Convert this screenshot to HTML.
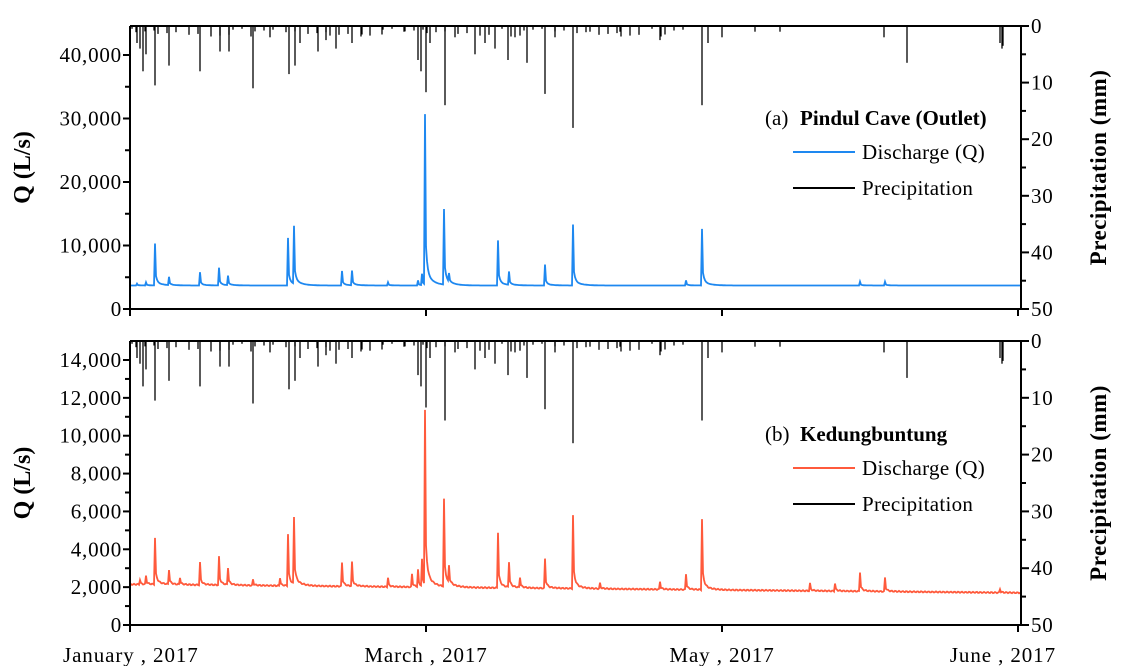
<!DOCTYPE html>
<html><head><meta charset="utf-8"><style>
body{margin:0;background:#fff}
svg text{font-family:"Liberation Serif",serif;fill:#000}
</style></head><body>
<svg id="s" width="1121" height="666" xmlns="http://www.w3.org/2000/svg">
<rect width="1121" height="666" fill="#fff"/>
<g id="g"></g>
</svg>
<script>
var g=document.getElementById('g');var h='';
var L=130,R=1021;
var P=[{t:26,b:309,max:45000,step:10000,minor:5000,col:'#1e88f0',base:function(x){return 3700},
 sp:[[155,10300],[169,5000],[200,5800],[219,6500],[228,5200],[288,11200],[294,12800],[342,6000],[352,6000],[388,4200],[418,4500],[422,5500],[425,30500],[444,15600],[449,5000],[498,10800],[509,5800],[545,7000],[573,13300],[686,4500],[702,12600],[860,4300],[885,4300],[146,4200],[137,4000]]},
 {t:341,b:625,max:14800,step:2000,minor:1000,col:'#ff5a3c',base:function(x){return 2150-450*(x-L)/(R-L)},
 sp:[[155,4600],[169,2900],[180,2500],[200,3300],[219,3600],[228,3000],[253,2400],[280,2500],[288,4800],[294,5600],[342,3300],[352,3300],[388,2500],[412,2700],[418,2900],[422,3400],[425,11200],[444,6600],[449,2900],[498,4900],[509,3300],[520,2500],[545,3500],[573,5800],[600,2200],[660,2300],[686,2700],[702,5600],[810,2200],[835,2200],[860,2800],[885,2500],[146,2600],[140,2400],[1000,1900]]}];
var rain=[[137,3],[140,4],[143,8],[146,5],[155,10.5],[169,7],[200,8],[220,4.5],[229,4.5],[253,11],[270,2],[289,8.5],[295,7],[300,3],[318,4.5],[326,2.5],[336,4],[352,3],[362,1.5],[382,1.5],[404,1],[418,6],[421,8],[426,11.7],[430,3],[445,14],[455,2],[475,5],[485,3],[495,4],[508,6],[515,2],[527,6.5],[545,12],[555,2],[573,18],[590,1],[620,1],[660,2.5],[665,1.5],[702,14],[708,3],[722,2],[755,1],[780,1],[884,2],[907,6.5],[1000,3],[1002,4],[1003,3.5]];
for(var i=0;i<60;i++){var x=132+((i*97)%560);rain.push([x,0.5+((i*37)%10)/10*1.5]);}
var months=[[130,'January , 2017'],[426,'March , 2017'],[722,'May , 2017'],[1018,'June , 2017']];
P.forEach(function(p,k){
 var H=p.b-p.t, z=p.b, sy;
 if(k==0){sy=(309-55)/40000;}else{sy=(625-360)/14000;}
 var pr=H/50;
 rain.forEach(function(r){h+='<line x1="'+r[0]+'" y1="'+p.t+'" x2="'+r[0]+'" y2="'+(p.t+r[1]*pr).toFixed(1)+'" stroke="#000" stroke-width="1.3"/>';});
 var d='';
 for(var x=L;x<=R;x+=1){
  var v=p.base(x)+ (k?30*Math.sin(x*1.7):0);
  p.sp.forEach(function(s){var dx=x-s[0];var a=s[1]-p.base(s[0]);if(dx==0)v+=a;else if(dx>0)v+=a*(0.3*Math.exp(-dx/1.5)+0.08*Math.exp(-dx/7));});
  d+=(x==L?'M':'L')+x+','+(z-v*sy).toFixed(1);
 }
 h+='<path d="'+d+'" fill="none" stroke="'+p.col+'" stroke-width="1.8"/>';
 h+='<path d="M'+L+','+p.t+'V'+p.b+'H'+R+'V'+p.t+'H'+L+'" fill="none" stroke="#000" stroke-width="2"/>';
 for(var v=0;v<=p.max;v+=p.minor){var y=z-v*sy;if(y<p.t-1)break;var maj=(v%p.step==0);h+='<line x1="'+(L-(maj?7:5))+'" y1="'+y+'" x2="'+L+'" y2="'+y+'" stroke="#000" stroke-width="2"/>';if(maj)h+='<text x="'+(L-8)+'" y="'+(y+7)+'" font-size="21" letter-spacing="0.8" text-anchor="end">'+v.toLocaleString('en-US')+'</text>';}
 for(var m=0;m<=50;m+=5){var y=p.t+m*pr;var maj=m%10==0;h+='<line x1="'+R+'" y1="'+y+'" x2="'+(R+(maj?8:5))+'" y2="'+y+'" stroke="#000" stroke-width="2"/>';if(maj)h+='<text x="'+(R+10)+'" y="'+(y+7)+'" font-size="21" letter-spacing="0.8">'+m+'</text>';}
 months.forEach(function(mm){h+='<line x1="'+mm[0]+'" y1="'+p.b+'" x2="'+mm[0]+'" y2="'+(p.b+7)+'" stroke="#000" stroke-width="2"/>';});
 var cy=(p.t+p.b)/2;
 h+='<text transform="translate(30,'+cy+') rotate(-90)" font-size="24" font-weight="bold" text-anchor="middle">Q (L/s)</text>';
 h+='<text transform="translate(1106,'+cy+') rotate(-90)" font-size="23" font-weight="bold" text-anchor="middle" letter-spacing="0.5">Precipitation  (mm)</text>';
});
months.forEach(function(mm,i){h+='<text x="'+mm[0]+'" y="662" font-size="21" letter-spacing="0.9" text-anchor="'+(i==0?'start':(i==3?'end':'middle'))+'" '+(i==0?'dx="-67"':'')+(i==3?'dx="38"':'')+'>'+mm[1]+'</text>';});
function leg(y,lab,name,col){
 h+='<text x="765" y="'+y+'" font-size="21" font-family="Liberation Sans">'+lab+'</text>';
 h+='<text x="800" y="'+y+'" font-size="21" font-weight="bold">'+name+'</text>';
 h+='<line x1="793" y1="'+(y+27)+'" x2="855" y2="'+(y+27)+'" stroke="'+col+'" stroke-width="2"/>';
 h+='<text x="862" y="'+(y+34)+'" font-size="21" letter-spacing="0.3">Discharge (Q)</text>';
 h+='<line x1="793" y1="'+(y+63)+'" x2="855" y2="'+(y+63)+'" stroke="#000" stroke-width="2"/>';
 h+='<text x="862" y="'+(y+70)+'" font-size="21" letter-spacing="0.3">Precipitation</text>';
}
leg(125,'(a)','Pindul Cave (Outlet)','#1e88f0');
leg(441,'(b)','Kedungbuntung','#ff5a3c');
g.innerHTML=h;
</script>
</body></html>
